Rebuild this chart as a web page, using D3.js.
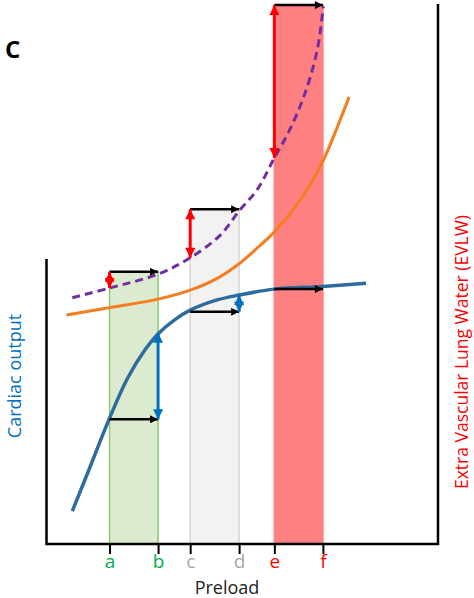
<!DOCTYPE html>
<html lang="en">
<head>
<meta charset="utf-8">
<title>Preload vs cardiac output and EVLW</title>
<script src="https://cdn.jsdelivr.net/npm/d3@7"></script>
<style>
  body { margin: 0; background: #fff; }
  text { font-family: "Open Sans", "DejaVu Sans", sans-serif; }
</style>
</head>
<body>
<script>
// preload ticks (x units 0-100)
var tickNames = ["a", "b", "c", "d", "e", "f"];
var tickPos = [16.1, 28.5, 36.7, 49.2, 58.2, 70.6];
var tickColors = ["#00b050", "#00b050", "#a6a6a6", "#a6a6a6", "#ff0000", "#ff0000"];

// cardiac output (blue)
var coX = [6.6, 11.2, 16.1, 20.7, 25.3, 28.6, 32.9, 36.7, 43.6, 49.2, 58.2, 70.4, 81.6];
var coY = [6.1, 14.4, 23.3, 30.7, 36.1, 39.0, 41.6, 43.3, 45.2, 46.1, 47.2, 47.7, 48.3];

// EVLW normal (orange)
var evX = [5.1, 16.3, 28.8, 36.7, 43.6, 49.2, 54.1, 58.2, 64.8, 70.4, 74.0, 77.3];
var evY = [42.4, 43.8, 45.4, 47.0, 49.2, 51.9, 55.0, 57.8, 63.7, 70.6, 76.7, 82.8];

// EVLW increased permeability (purple dashed)
var ev2X = [6.6, 16.1, 28.6, 36.7, 44.4, 49.2, 53.8, 58.2, 61.7, 64.8, 67.3, 69.4, 70.7];
var ev2Y = [45.6, 47.4, 50.0, 53.0, 57.2, 61.7, 65.6, 71.5, 76.1, 81.1, 86.3, 92.4, 99.6];

// shaded preload bands
var bandFrom = ["a", "c", "e"];
var bandTo = ["b", "d", "f"];
var bandTop = [50.4, 62.0, 99.8];
var bandFill = ["#dcead0", "#f2f2f2", "#ff8080"];
var bandLine = ["#8dc66b", "#d6d6d6", "#ff7c7c"];

// black preload steps
var stepFrom = ["a", "a", "c", "c", "e", "e"];
var stepTo = ["b", "b", "d", "d", "f", "f"];
var stepY = [23.1, 50.4, 43.0, 62.0, 47.2, 99.8];

// EVLW change (red) and cardiac output change (blue)
var redAt = ["a", "c", "e"];
var redLo = [47.4, 53.0, 71.5];
var redHi = [50.4, 62.0, 99.8];
var blueAt = ["b", "d"];
var blueLo = [23.1, 43.0];
var blueHi = [39.1, 46.1];

var leftAxisTop = 52.8;

var width = 474, height = 598;

var x = d3.scaleLinear().domain([0, 100]).range([46.5, 438]);
var y = d3.scaleLinear().domain([0, 100]).range([544, 4]);

function tx(name) { return x(tickPos[tickNames.indexOf(name)]); }

var svg = d3.select("body").append("svg")
    .attr("width", width)
    .attr("height", height);

var defs = svg.append("defs");
[["blk", "#000"], ["red", "#ff0000"], ["blu", "#0070c0"]].forEach(function (m) {
  defs.append("marker")
      .attr("id", "ah-" + m[0])
      .attr("viewBox", "0 0 10 10")
      .attr("refX", 10).attr("refY", 5)
      .attr("markerWidth", m[0] == "blk" ? 9 : 11)
      .attr("markerHeight", m[0] == "blk" ? 8 : 10)
      .attr("markerUnits", "userSpaceOnUse")
      .attr("orient", "auto-start-reverse")
    .append("path")
      .attr("d", "M0,0 L10,5 L0,10 z")
      .attr("fill", m[1]);
});

// bands
var bands = bandFrom.map(function (f, i) {
  return {x0: tx(f), x1: tx(bandTo[i]), top: bandTop[i], fill: bandFill[i], line: bandLine[i]};
});
svg.selectAll("rect.band").data(bands).enter().append("rect")
    .attr("class", "band")
    .attr("x", function (d) { return d.x0; })
    .attr("y", function (d) { return y(d.top); })
    .attr("width", function (d) { return d.x1 - d.x0; })
    .attr("height", function (d) { return y(0) - y(d.top); })
    .attr("fill", function (d) { return d.fill; })
    .attr("stroke", function (d) { return d.line; })
    .attr("stroke-width", 1.5);

// curves
var line = d3.line()
    .x(function (d) { return x(d[0]); })
    .y(function (d) { return y(d[1]); })
    .curve(d3.curveCatmullRom.alpha(0.5));

svg.append("path")
    .datum(d3.zip(evX, evY))
    .attr("d", line)
    .attr("fill", "none")
    .attr("stroke", "#f57d1f")
    .attr("stroke-width", 3);

svg.append("path")
    .datum(d3.zip(ev2X, ev2Y))
    .attr("d", line)
    .attr("fill", "none")
    .attr("stroke", "#7030a0")
    .attr("stroke-width", 3)
    .attr("stroke-dasharray", "8,5");

svg.append("path")
    .datum(d3.zip(coX, coY))
    .attr("d", line)
    .attr("fill", "none")
    .attr("stroke", "#2e6c9e")
    .attr("stroke-width", 3.5);

// black arrows
svg.selectAll("line.step").data(stepY).enter().append("line")
    .attr("class", "step")
    .attr("x1", function (d, i) { return tx(stepFrom[i]); })
    .attr("x2", function (d, i) { return tx(stepTo[i]); })
    .attr("y1", function (d) { return y(d); })
    .attr("y2", function (d) { return y(d); })
    .attr("stroke", "#000")
    .attr("stroke-width", 2.5)
    .attr("marker-end", "url(#ah-blk)");

// red double arrows
svg.selectAll("line.red").data(redAt).enter().append("line")
    .attr("class", "red")
    .attr("x1", function (d) { return tx(d); })
    .attr("x2", function (d) { return tx(d); })
    .attr("y1", function (d, i) { return y(redLo[i]); })
    .attr("y2", function (d, i) { return y(redHi[i]); })
    .attr("stroke", "#ff0000")
    .attr("stroke-width", 3)
    .attr("marker-start", "url(#ah-red)")
    .attr("marker-end", "url(#ah-red)");

// blue double arrows
svg.selectAll("line.blu").data(blueAt).enter().append("line")
    .attr("class", "blu")
    .attr("x1", function (d) { return tx(d); })
    .attr("x2", function (d) { return tx(d); })
    .attr("y1", function (d, i) { return y(blueLo[i]); })
    .attr("y2", function (d, i) { return y(blueHi[i]); })
    .attr("stroke", "#0070c0")
    .attr("stroke-width", 3)
    .attr("marker-start", "url(#ah-blu)")
    .attr("marker-end", "url(#ah-blu)");

// axes
var xAxis = d3.axisBottom(x)
    .tickValues(tickPos)
    .tickSize(10)
    .tickFormat(function (d, i) { return tickNames[i]; });

var gx = svg.append("g")
    .attr("transform", "translate(0," + y(0) + ")")
    .call(xAxis);
gx.select(".domain").remove();
gx.selectAll(".tick line").attr("stroke", "#000").attr("stroke-width", 2);
gx.selectAll(".tick text")
    .attr("y", 24)
    .attr("dy", 0)
    .attr("font-size", 19)
    .attr("font-family", "Open Sans, sans-serif")
    .attr("fill", function (d, i) { return tickColors[i]; });

svg.append("path")
    .attr("d", "M" + x(0) + "," + y(leftAxisTop) + "V" + y(0) + "H" + x(100) + "V" + y(100))
    .attr("fill", "none")
    .attr("stroke", "#000")
    .attr("stroke-width", 2.5);

// labels
svg.append("text")
    .attr("x", 5).attr("y", 58)
    .attr("font-family", "Liberation Sans, Arial, sans-serif")
    .attr("font-weight", "bold")
    .attr("font-size", 24)
    .text("C");

svg.append("text")
    .attr("transform", "translate(21,376) rotate(-90)")
    .attr("text-anchor", "middle")
    .attr("font-size", 18)
    .attr("fill", "#0070c0")
    .text("Cardiac output");

svg.append("text")
    .attr("transform", "translate(468,352) rotate(-90)")
    .attr("text-anchor", "middle")
    .attr("font-size", 17.5)
    .attr("fill", "#ff0000")
    .text("Extra Vascular Lung Water (EVLW)");

svg.append("text")
    .attr("x", 227).attr("y", 594)
    .attr("text-anchor", "middle")
    .attr("font-size", 18)
    .attr("fill", "#222")
    .text("Preload");
</script>
</body>
</html>
